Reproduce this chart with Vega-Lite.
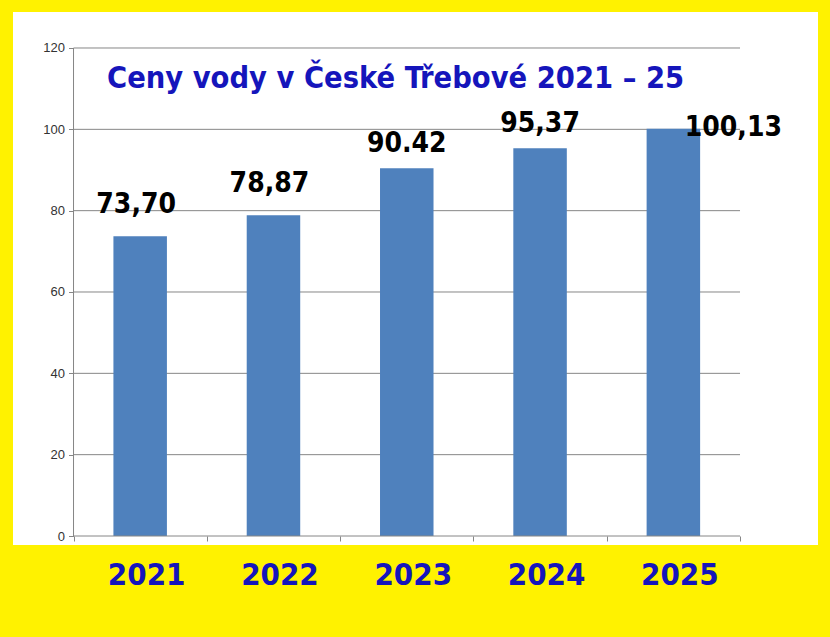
{
  "$schema": "https://vega.github.io/schema/vega-lite/v6.json",
  "width": 805,
  "height": 533,
  "autosize": {"type": "none"},
  "padding": {"left": 13, "top": 12, "right": 12, "bottom": 92},
  "background": "#FFF200",
  "view": {"fill": "white", "stroke": null},
  "title": {
    "text": "Ceny vody v České Třebové 2021 – 25",
    "anchor": "start",
    "frame": "group",
    "orient": "top",
    "offset": 0,
    "dx": 94,
    "dy": 106,
    "baseline": "alphabetic",
    "font": "DejaVu Sans Condensed",
    "fontWeight": "bold",
    "fontSize": 30.5,
    "color": "#1515BB"
  },
  "datasets": {
    "prices": [
      {"year": 2021, "price": 73.70, "label": "73,70"},
      {"year": 2022, "price": 78.87, "label": "78,87"},
      {"year": 2023, "price": 90.42, "label": "90.42"},
      {"year": 2024, "price": 95.37, "label": "95,37"},
      {"year": 2025, "price": 100.13, "label": "100,13"}
    ],
    "grid": [{"v": 20}, {"v": 40}, {"v": 60}, {"v": 80}, {"v": 100}, {"v": 120}],
    "one": [{}]
  },
  "resolve": {"axis": {"x": "independent"}},
  "layer": [
    {
      "data": {"name": "grid"},
      "mark": {"type": "rule", "color": "#868686", "strokeWidth": 1},
      "encoding": {
        "x": {"datum": 2020.5, "type": "quantitative", "scale": {"domain": [2020.046, 2026.085], "nice": false, "zero": false, "padding": 0}, "axis": null},
        "x2": {"datum": 2025.5},
        "y": {"field": "v", "type": "quantitative", "scale": {"domain": [-2.213, 128.852], "nice": false, "zero": false, "padding": 0}}
      }
    },
    {
      "data": {"name": "prices"},
      "mark": {"type": "bar", "color": "#4F81BD", "width": 53.5},
      "encoding": {
        "x": {
          "field": "year", "type": "quantitative",
          "scale": {"domain": [2020.046, 2026.085], "nice": false, "zero": false, "padding": 0},
          "axis": {
            "orient": "bottom",
            "values": [2021, 2022, 2023, 2024, 2025], "format": "d", "title": null,
            "domain": false, "ticks": false, "grid": false,
            "labelFont": "DejaVu Sans Condensed", "labelFontWeight": "bold", "labelFontSize": 31,
            "labelColor": "#1515BB", "labelPadding": 15, "labelOffset": 6,
            "labelFlush": false, "labelOverlap": false
          }
        },
        "y": {
          "field": "price", "type": "quantitative",
          "scale": {"domain": [-2.213, 128.852], "nice": false, "zero": false, "padding": 0},
          "axis": {
            "values": [0, 20, 40, 60, 80, 100, 120], "title": null, "offset": -60.5,
            "domain": false, "grid": false, "tickSize": 5, "tickColor": "#868686",
            "labelFont": "Liberation Sans", "labelFontSize": 13, "labelColor": "#333333", "labelPadding": 4
          }
        },
        "y2": {"datum": 0}
      }
    },
    {
      "data": {"name": "one"},
      "mark": {"type": "rule", "color": "#868686", "strokeWidth": 1},
      "encoding": {
        "x": {"datum": 2020.5, "type": "quantitative", "scale": {"domain": [2020.046, 2026.085], "nice": false, "zero": false, "padding": 0}, "axis": null},
        "y": {"datum": 0, "type": "quantitative", "scale": {"domain": [-2.213, 128.852], "nice": false, "zero": false, "padding": 0}},
        "y2": {"datum": 120}
      }
    },
    {
      "data": {"name": "one"},
      "mark": {"type": "rule", "color": "#868686", "strokeWidth": 1},
      "encoding": {
        "x": {
          "datum": 2020.5, "type": "quantitative",
          "scale": {"domain": [2020.046, 2026.085], "nice": false, "zero": false, "padding": 0},
          "axis": {
            "orient": "bottom",
            "values": [2020.5, 2021.5, 2022.5, 2023.5, 2024.5, 2025.5], "labels": false, "title": null,
            "domain": false, "grid": false, "ticks": true, "tickSize": 5, "tickColor": "#868686", "offset": -9
          }
        },
        "x2": {"datum": 2025.5},
        "y": {"datum": 0, "type": "quantitative", "scale": {"domain": [-2.213, 128.852], "nice": false, "zero": false, "padding": 0}}
      }
    },
    {
      "data": {"name": "prices"},
      "transform": [{"filter": "datum.year <= 2022"}],
      "mark": {"type": "text", "baseline": "alphabetic", "align": "center", "dx": -4, "dy": -23, "font": "DejaVu Sans Condensed", "fontWeight": "bold", "fontSize": 28, "color": "black"},
      "encoding": {
        "x": {"field": "year", "type": "quantitative", "scale": {"domain": [2020.046, 2026.085], "nice": false, "zero": false, "padding": 0}, "axis": null},
        "y": {"field": "price", "type": "quantitative", "scale": {"domain": [-2.213, 128.852], "nice": false, "zero": false, "padding": 0}},
        "text": {"field": "label"}
      }
    },
    {
      "data": {"name": "prices"},
      "transform": [{"filter": "datum.year == 2023 || datum.year == 2024"}],
      "mark": {"type": "text", "baseline": "alphabetic", "align": "center", "dy": -16, "font": "DejaVu Sans Condensed", "fontWeight": "bold", "fontSize": 28, "color": "black"},
      "encoding": {
        "x": {"field": "year", "type": "quantitative", "scale": {"domain": [2020.046, 2026.085], "nice": false, "zero": false, "padding": 0}, "axis": null},
        "y": {"field": "price", "type": "quantitative", "scale": {"domain": [-2.213, 128.852], "nice": false, "zero": false, "padding": 0}},
        "text": {"field": "label"}
      }
    },
    {
      "data": {"name": "prices"},
      "transform": [{"filter": "datum.year == 2025"}],
      "mark": {"type": "text", "baseline": "alphabetic", "align": "center", "dx": 60, "dy": 7, "font": "DejaVu Sans Condensed", "fontWeight": "bold", "fontSize": 28, "color": "black"},
      "encoding": {
        "x": {"field": "year", "type": "quantitative", "scale": {"domain": [2020.046, 2026.085], "nice": false, "zero": false, "padding": 0}, "axis": null},
        "y": {"field": "price", "type": "quantitative", "scale": {"domain": [-2.213, 128.852], "nice": false, "zero": false, "padding": 0}},
        "text": {"field": "label"}
      }
    }
  ]
}
